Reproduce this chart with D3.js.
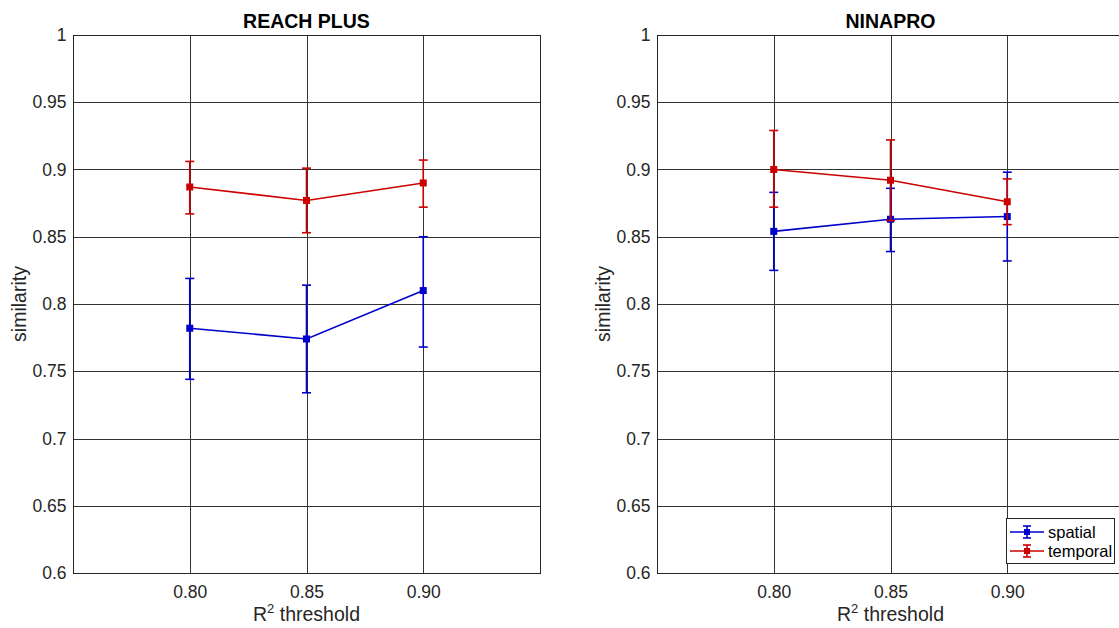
<!DOCTYPE html>
<html>
<head>
<meta charset="utf-8">
<script src="https://cdn.jsdelivr.net/npm/d3@7"></script>
<style>
  body { margin: 0; background: #fff; }
  svg { font-family: "Liberation Sans", Arial, sans-serif; }
</style>
</head>
<body>
<div id="chart"></div>
<script>
// thresholds on the x axis
const thresholds = [0.80, 0.85, 0.90];
const xTickLabels = ["0.80", "0.85", "0.90"];
const yTicks = [0.6, 0.65, 0.7, 0.75, 0.8, 0.85, 0.9, 0.95, 1];

// REACH PLUS
const reachSpatial = [0.782, 0.774, 0.810];
const reachSpatialLo = [0.744, 0.734, 0.768];
const reachSpatialHi = [0.819, 0.814, 0.850];
const reachTemporal = [0.887, 0.877, 0.890];
const reachTemporalLo = [0.867, 0.853, 0.872];
const reachTemporalHi = [0.906, 0.901, 0.907];

// NINAPRO
const ninaSpatial = [0.854, 0.863, 0.865];
const ninaSpatialLo = [0.825, 0.839, 0.832];
const ninaSpatialHi = [0.883, 0.886, 0.898];
const ninaTemporal = [0.900, 0.892, 0.876];
const ninaTemporalLo = [0.872, 0.862, 0.859];
const ninaTemporalHi = [0.929, 0.922, 0.893];

const seriesNames = ["spatial", "temporal"];
const colors = ["#0000cc", "#cc0000"];

const width = 1119, height = 628;
const svg = d3.select("#chart").append("svg")
    .attr("width", width)
    .attr("height", height);

function makeSeries(vals, lo, hi) {
    return thresholds.map(function (t, i) {
        return {x: t, y: vals[i], lo: lo[i], hi: hi[i]};
    });
}

const panels = [
    {title: "REACH PLUS", left: 73, series: [
        makeSeries(reachSpatial, reachSpatialLo, reachSpatialHi),
        makeSeries(reachTemporal, reachTemporalLo, reachTemporalHi)]},
    {title: "NINAPRO", left: 657, legend: true, series: [
        makeSeries(ninaSpatial, ninaSpatialLo, ninaSpatialHi),
        makeSeries(ninaTemporal, ninaTemporalLo, ninaTemporalHi)]}
];

const plotTop = 35, plotBottom = 573, plotW = 467;
const tickFont = 17.5, labelFont = 19.5;

panels.forEach(function (p) {
    const x = d3.scaleLinear().domain([0.75, 0.95]).range([p.left, p.left + plotW]);
    const y = d3.scaleLinear().domain([0.6, 1]).range([plotBottom, plotTop]);
    const g = svg.append("g");

    // grid
    g.append("g").selectAll("line").data(thresholds).enter().append("line")
        .attr("x1", function (d) { return Math.round(x(d)) + 0.5; })
        .attr("x2", function (d) { return Math.round(x(d)) + 0.5; })
        .attr("y1", plotTop).attr("y2", plotBottom)
        .attr("stroke", "#333").attr("stroke-width", 1);
    g.append("g").selectAll("line").data(yTicks).enter().append("line")
        .attr("y1", function (d) { return Math.round(y(d)) + 0.5; })
        .attr("y2", function (d) { return Math.round(y(d)) + 0.5; })
        .attr("x1", p.left).attr("x2", p.left + plotW)
        .attr("stroke", "#333").attr("stroke-width", 1);

    // box
    g.append("rect")
        .attr("x", p.left + 0.5).attr("y", plotTop + 0.5)
        .attr("width", plotW).attr("height", plotBottom - plotTop)
        .attr("fill", "none").attr("stroke", "#262626").attr("stroke-width", 1);

    // axes
    const yAxis = g.append("g")
        .attr("transform", "translate(" + (p.left + 0.5) + ",0)")
        .call(d3.axisLeft(y).tickValues(yTicks).tickSize(0).tickPadding(7)
            .tickFormat(function (d) { return String(+d.toFixed(2)); }));
    yAxis.select(".domain").remove();
    yAxis.selectAll("text").attr("font-size", tickFont).attr("fill", "#262626")
        .attr("font-family", "Liberation Sans, Arial, sans-serif");

    const xAxis = g.append("g")
        .attr("transform", "translate(0," + (plotBottom + 0.5) + ")")
        .call(d3.axisBottom(x).tickValues(thresholds).tickSize(0).tickPadding(12)
            .tickFormat(function (d, i) { return xTickLabels[i]; }));
    xAxis.select(".domain").remove();
    xAxis.selectAll("text").attr("font-size", tickFont).attr("fill", "#262626")
        .attr("font-family", "Liberation Sans, Arial, sans-serif");

    // title
    g.append("text")
        .attr("x", p.left + plotW / 2).attr("y", 28)
        .attr("text-anchor", "middle").attr("font-size", labelFont).attr("font-weight", "bold")
        .attr("fill", "#000").text(p.title);

    // axis labels
    const xl = g.append("text")
        .attr("x", p.left + plotW / 2).attr("y", 621)
        .attr("text-anchor", "middle").attr("font-size", labelFont).attr("fill", "#262626");
    xl.append("tspan").text("R");
    xl.append("tspan").attr("dy", -8).attr("font-size", 13).text("2");
    xl.append("tspan").attr("dy", 8).text(" threshold");

    g.append("text")
        .attr("transform", "translate(" + (p.left - 47) + "," + ((plotTop + plotBottom) / 2) + ") rotate(-90)")
        .attr("text-anchor", "middle").attr("font-size", labelFont).attr("fill", "#262626")
        .text("similarity");

    // series
    const line = d3.line().x(function (d) { return x(d.x); }).y(function (d) { return y(d.y); });
    p.series.forEach(function (s, si) {
        const c = colors[si];
        const sg = g.append("g");
        sg.selectAll("line.err").data(s).enter().append("line").attr("class", "err")
            .attr("x1", function (d) { return x(d.x); })
            .attr("x2", function (d) { return x(d.x); })
            .attr("y1", function (d) { return y(d.lo); })
            .attr("y2", function (d) { return y(d.hi); })
            .attr("stroke", c).attr("stroke-width", 1.6);
        ["lo", "hi"].forEach(function (k) {
            sg.selectAll("line.cap" + k).data(s).enter().append("line").attr("class", "cap" + k)
                .attr("x1", function (d) { return x(d.x) - 4.5; })
                .attr("x2", function (d) { return x(d.x) + 4.5; })
                .attr("y1", function (d) { return y(d[k]); })
                .attr("y2", function (d) { return y(d[k]); })
                .attr("stroke", c).attr("stroke-width", 1.6);
        });
        sg.append("path").datum(s).attr("d", line)
            .attr("fill", "none").attr("stroke", c).attr("stroke-width", 1.6);
        sg.selectAll("rect.mk").data(s).enter().append("rect").attr("class", "mk")
            .attr("x", function (d) { return x(d.x) - 3.5; })
            .attr("y", function (d) { return y(d.y) - 3.5; })
            .attr("width", 7).attr("height", 7)
            .attr("fill", c);
    });

    if (p.legend) {
        const lx = 1006, ly = 518;
        const lg = g.append("g");
        lg.append("rect").attr("x", lx + 0.5).attr("y", ly + 0.5)
            .attr("width", 108).attr("height", 45)
            .attr("fill", "#fff").attr("stroke", "#262626").attr("stroke-width", 1);
        seriesNames.forEach(function (name, i) {
            const cy = ly + 14 + i * 19;
            const c = colors[i];
            lg.append("line").attr("x1", lx + 4).attr("x2", lx + 38)
                .attr("y1", cy).attr("y2", cy).attr("stroke", c).attr("stroke-width", 1.6);
            lg.append("line").attr("x1", lx + 21).attr("x2", lx + 21)
                .attr("y1", cy - 6).attr("y2", cy + 6).attr("stroke", c).attr("stroke-width", 1.6);
            lg.append("line").attr("x1", lx + 17).attr("x2", lx + 25)
                .attr("y1", cy - 6).attr("y2", cy - 6).attr("stroke", c).attr("stroke-width", 1.6);
            lg.append("line").attr("x1", lx + 17).attr("x2", lx + 25)
                .attr("y1", cy + 6).attr("y2", cy + 6).attr("stroke", c).attr("stroke-width", 1.6);
            lg.append("rect").attr("x", lx + 18).attr("y", cy - 3)
                .attr("width", 6).attr("height", 6).attr("fill", c);
            lg.append("text").attr("x", lx + 42).attr("y", cy + 6)
                .attr("font-size", 16.5).attr("fill", "#000").text(name);
        });
    }
});
</script>
</body>
</html>
